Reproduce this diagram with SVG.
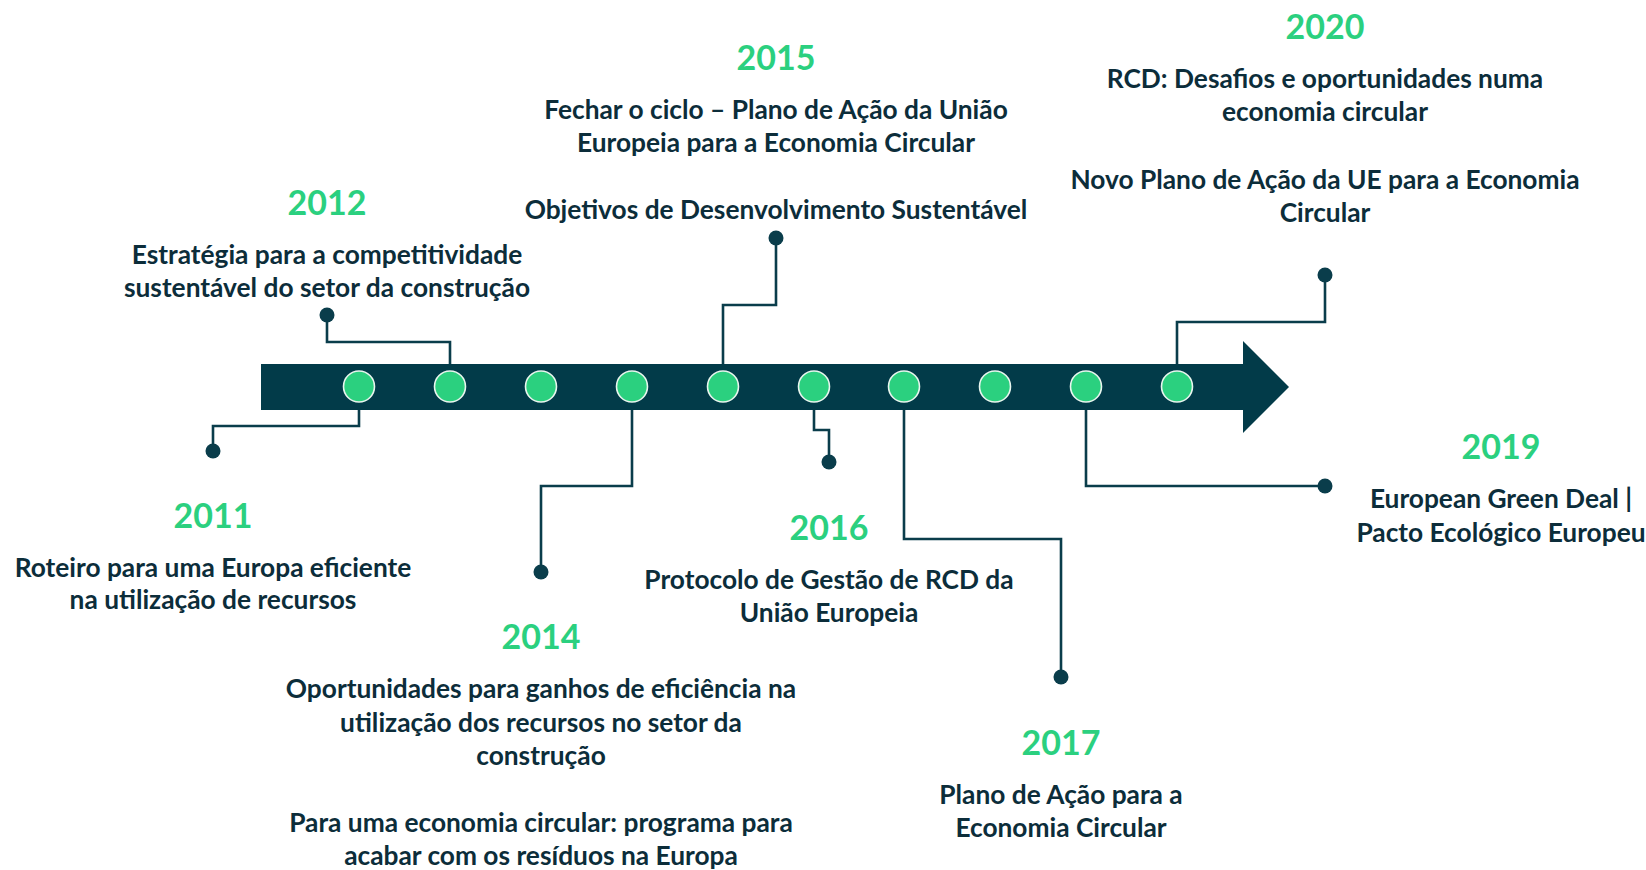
<svg xmlns="http://www.w3.org/2000/svg" width="1646" height="870" viewBox="0 0 1646 870">
<style>
.year{font-family:Lato,"Liberation Sans",sans-serif;font-weight:700;font-size:34px;fill:#2BD07F;text-anchor:middle}
.lbl{font-family:Lato,"Liberation Sans",sans-serif;font-weight:700;font-size:26.3px;fill:#0C2D3A;text-anchor:middle}
.con{fill:none;stroke:#0A3D4B;stroke-width:2.6}
.dot{fill:#0A3D4B}
.ms{fill:#2BD07F;stroke:#E8F5EE;stroke-width:1.6}
</style>
<rect width="1646" height="870" fill="#FFFFFF"/>
<g id="timeline">
<rect x="261" y="364" width="984" height="46" fill="#023B49"/>
<polygon points="1243,341 1289,387 1243,433" fill="#023B49"/>
<circle class="ms" cx="359" cy="386.5" r="15.5"/>
<circle class="ms" cx="450" cy="386.5" r="15.5"/>
<circle class="ms" cx="541" cy="386.5" r="15.5"/>
<circle class="ms" cx="632" cy="386.5" r="15.5"/>
<circle class="ms" cx="723" cy="386.5" r="15.5"/>
<circle class="ms" cx="814" cy="386.5" r="15.5"/>
<circle class="ms" cx="904" cy="386.5" r="15.5"/>
<circle class="ms" cx="995" cy="386.5" r="15.5"/>
<circle class="ms" cx="1086" cy="386.5" r="15.5"/>
<circle class="ms" cx="1177" cy="386.5" r="15.5"/>
</g>
<g id="connectors">
<path class="con" d="M359,410 V426 H213 V451"/>
<path class="con" d="M450,364 V342 H327 V315"/>
<path class="con" d="M632,410 V486 H541 V572"/>
<path class="con" d="M723,364 V305 H776 V238"/>
<path class="con" d="M814,410 V430 H829 V462"/>
<path class="con" d="M904,410 V539 H1061 V677"/>
<path class="con" d="M1086,410 V486 H1325"/>
<path class="con" d="M1177,364 V322 H1325 V275"/>
<circle class="dot" cx="213" cy="451" r="7.5"/>
<circle class="dot" cx="327" cy="315" r="7.5"/>
<circle class="dot" cx="541" cy="572" r="7.5"/>
<circle class="dot" cx="776" cy="238" r="7.5"/>
<circle class="dot" cx="829" cy="462" r="7.5"/>
<circle class="dot" cx="1061" cy="677" r="7.5"/>
<circle class="dot" cx="1325" cy="486" r="7.5"/>
<circle class="dot" cx="1325" cy="275" r="7.5"/>
</g>
<g id="n2011">
<text class="year" x="213" y="528">2011</text>
<text class="lbl" x="213" y="577">Roteiro para uma Europa eficiente</text>
<text class="lbl" x="213" y="609">na utilização de recursos</text>
</g>
<g id="n2012">
<text class="year" x="327" y="215">2012</text>
<text class="lbl" x="327" y="264">Estratégia para a competitividade</text>
<text class="lbl" x="327" y="297">sustentável do setor da construção</text>
</g>
<g id="n2014">
<text class="year" x="541" y="649">2014</text>
<text class="lbl" x="541" y="698">Oportunidades para ganhos de eficiência na</text>
<text class="lbl" x="541" y="731.5">utilização dos recursos no setor da</text>
<text class="lbl" x="541" y="765">construção</text>
<text class="lbl" x="541" y="832">Para uma economia circular: programa para</text>
<text class="lbl" x="541" y="865">acabar com os resíduos na Europa</text>
</g>
<g id="n2015">
<text class="year" x="776" y="69.5">2015</text>
<text class="lbl" x="776" y="118.5">Fechar o ciclo – Plano de Ação da União</text>
<text class="lbl" x="776" y="152">Europeia para a Economia Circular</text>
<text class="lbl" x="776" y="218.5">Objetivos de Desenvolvimento Sustentável</text>
</g>
<g id="n2016">
<text class="year" x="829" y="540">2016</text>
<text class="lbl" x="829" y="589">Protocolo de Gestão de RCD da</text>
<text class="lbl" x="829" y="622">União Europeia</text>
</g>
<g id="n2017">
<text class="year" x="1061" y="755">2017</text>
<text class="lbl" x="1061" y="804">Plano de Ação para a</text>
<text class="lbl" x="1061" y="837">Economia Circular</text>
</g>
<g id="n2019">
<text class="year" x="1501" y="458.5">2019</text>
<text class="lbl" x="1501" y="508">European Green Deal |</text>
<text class="lbl" x="1501" y="541.5">Pacto Ecológico Europeu</text>
</g>
<g id="n2020">
<text class="year" x="1325" y="39">2020</text>
<text class="lbl" x="1325" y="88">RCD: Desafios e oportunidades numa</text>
<text class="lbl" x="1325" y="121">economia circular</text>
<text class="lbl" x="1325" y="188.5">Novo Plano de Ação da UE para a Economia</text>
<text class="lbl" x="1325" y="222">Circular</text>
</g>
</svg>
